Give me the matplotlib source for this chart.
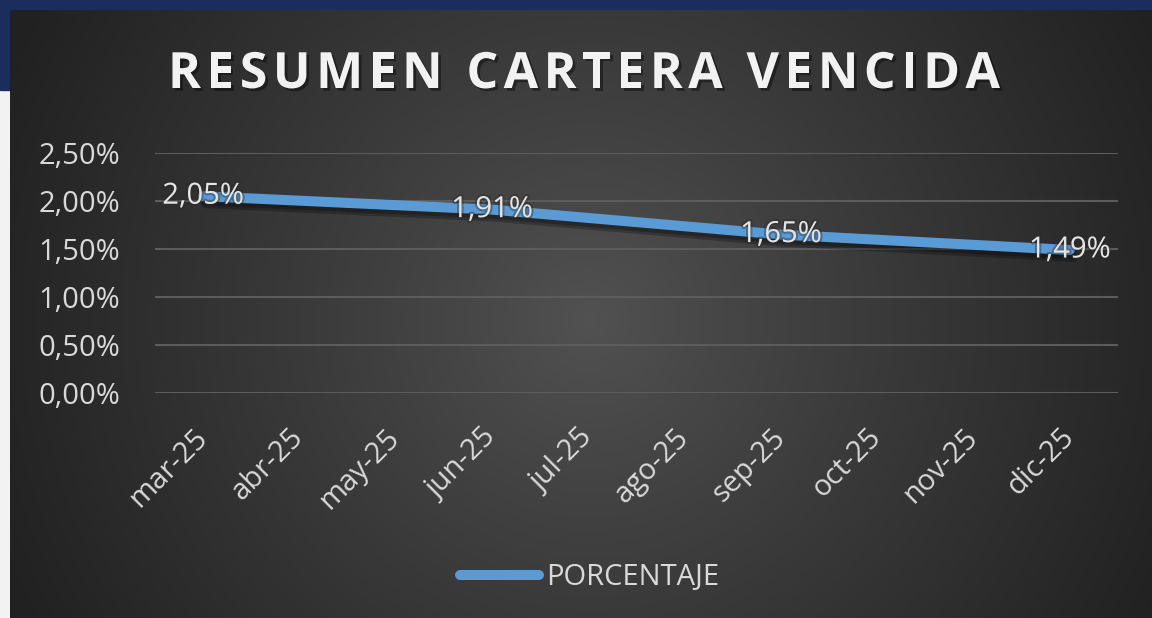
import numpy as np
import matplotlib
matplotlib.use('Agg')
import matplotlib.pyplot as plt
import matplotlib.patheffects as pe
from matplotlib.ticker import FuncFormatter
from matplotlib.font_manager import FontProperties

# datos
months = ['mar-25', 'abr-25', 'may-25', 'jun-25', 'jul-25',
          'ago-25', 'sep-25', 'oct-25', 'nov-25', 'dic-25']
point_months = ['mar-25', 'jun-25', 'sep-25', 'dic-25']
point_values = [0.0205, 0.0191, 0.0165, 0.0149]
y_ticks = [0.0, 0.005, 0.010, 0.015, 0.020, 0.025]

title = 'RESUMEN CARTERA VENCIDA'
series_name = 'PORCENTAJE'

W, H = 1152, 618
FS = 21
LABEL_COLOR = '#d9d9d9'


def pct(v):
    return f'{v * 100:.2f}%'.replace('.', ',')


fig = plt.figure(figsize=(W / 100, H / 100), dpi=100)
fig.patch.set_facecolor('#f2f2f2')

# franja azul superior e izquierda
band = fig.add_axes([0, 0, 1, 1], zorder=0)
band.set_xlim(0, W)
band.set_ylim(H, 0)
band.axis('off')
band.add_patch(plt.Rectangle((0, 0), W, 10, color='#1b2d5c'))
band.add_patch(plt.Rectangle((0, 0), 10, 90, color='#1b2d5c'))

# fondo con degradado radial
bg = fig.add_axes([10 / W, 0, (W - 10) / W, (H - 10) / H], zorder=1)
yy, xx = np.mgrid[10:H, 10:W]
r = np.hypot(xx - 590, yy - 320)
r = np.clip(r / 640, 0, 1) ** 0.9
c0 = np.array([0x52, 0x52, 0x52]) / 255
c1 = np.array([0x21, 0x21, 0x21]) / 255
img = c0[None, None, :] * (1 - r[..., None]) + c1[None, None, :] * r[..., None]
bg.imshow(img, aspect='auto', interpolation='bilinear')
bg.axis('off')

# grafico principal
ax = fig.add_axes([155 / W, 1 - 393 / H, (1118 - 155) / W, (393 - 153) / H], zorder=2)
ax.patch.set_alpha(0)
ax.set_xlim(-0.5, len(months) - 0.5)
ax.set_ylim(0, 0.025)
ax.set_yticks(y_ticks)
ax.yaxis.set_major_formatter(FuncFormatter(lambda v, p: pct(v)))
ax.set_xticks(range(len(months)))
ax.set_xticklabels(months, rotation=45, ha='right', va='center', rotation_mode='anchor')
ax.grid(axis='y', color='#5c5c5c', linewidth=1.5)
ax.set_axisbelow(True)
for s in ax.spines.values():
    s.set_visible(False)
ax.tick_params(length=0, colors=LABEL_COLOR, labelsize=FS)
ax.tick_params(axis='y', pad=25)
ax.tick_params(axis='x', pad=29)
for lbl in ax.get_xticklabels() + ax.get_yticklabels():
    lbl.set_family('Open Sans')

xs = [months.index(m) for m in point_months]
line, = ax.plot(xs, point_values, color='#5b9bd5', linewidth=7.2, solid_capstyle='round',
                label=series_name,
                path_effects=[pe.SimpleLineShadow(offset=(2, -5), shadow_color='black', alpha=0.25),
                              pe.SimpleLineShadow(offset=(1, -3), shadow_color='black', alpha=0.25),
                              pe.Normal()])
line.set_clip_on(False)

for x, v in zip(xs, point_values):
    ax.text(x, v, pct(v), ha='center', va='center',
            fontsize=FS, color='#e4e4e4', family='Open Sans', zorder=5,
            path_effects=[pe.withStroke(linewidth=3, foreground='#2a2a2a', alpha=0.4)])

# titulo con espaciado entre letras
tprop = FontProperties(family='Open Sans', weight='bold', size=36)
renderer = fig.canvas.get_renderer()


def char_w(c):
    if c == ' ':
        a = renderer.get_text_width_height_descent('RR', tprop, ismath=False)[0]
        b = renderer.get_text_width_height_descent('R R', tprop, ismath=False)[0]
        return b - a
    return renderer.get_text_width_height_descent(c, tprop, ismath=False)[0]


widths = [char_w(c) for c in title]
title_left, title_right = 168, 1000
track = (title_right - title_left - sum(widths)) / (len(title) - 1)
cx = title_left
for c, w in zip(title, widths):
    if c != ' ':
        fig.text(cx / W, 1 - 88 / H, c, ha='left', va='baseline', fontproperties=tprop,
                 color='#f2f2f2', zorder=5,
                 path_effects=[pe.withSimplePatchShadow(offset=(2, -2), shadow_rgbFace='black',
                                                        alpha=0.4)])
    cx += w + track

# leyenda
leg = fig.legend(handles=[line], loc='center', bbox_to_anchor=(590 / W, 1 - 578 / H),
                 frameon=False, handlelength=2.7, handletextpad=0.25,
                 labelcolor=LABEL_COLOR, prop={'family': 'Open Sans', 'size': FS})
leg.get_lines()[0].set_path_effects([pe.Normal()])

fig.savefig('out.png', dpi=100, facecolor=fig.get_facecolor())
